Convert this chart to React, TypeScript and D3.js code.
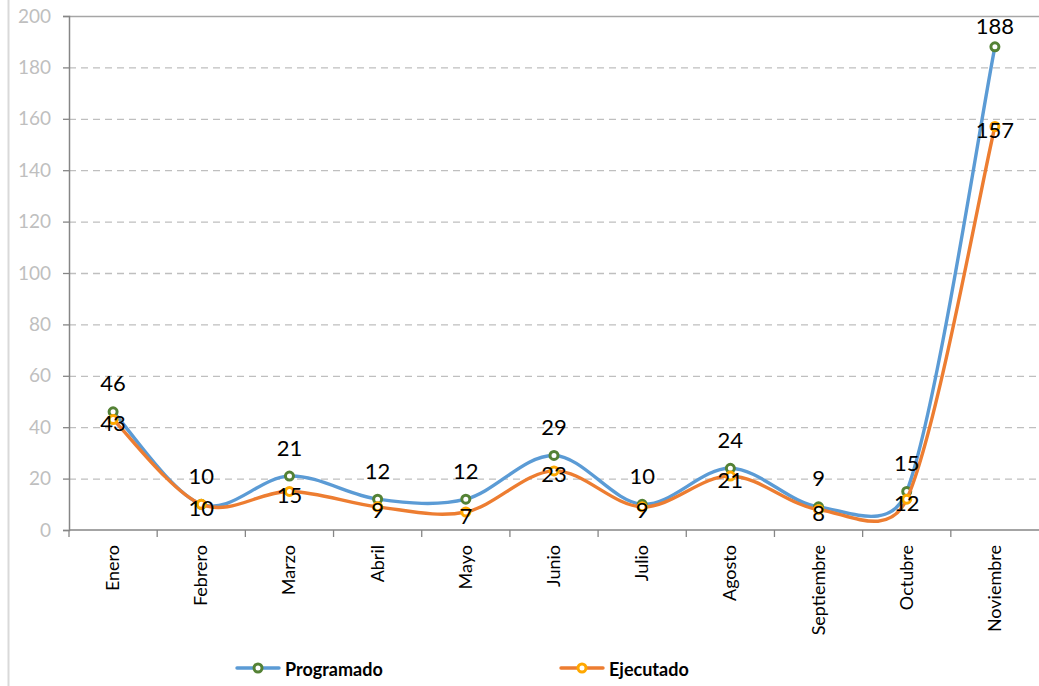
import React, { useEffect, useRef } from "react";
import * as d3 from "d3";

// datos
const meses = ["Enero", "Febrero", "Marzo", "Abril", "Mayo", "Junio", "Julio", "Agosto", "Septiembre", "Octubre", "Noviembre"];
const programado = [46, 10, 21, 12, 12, 29, 10, 24, 9, 15, 188];
const ejecutado = [43, 10, 15, 9, 7, 23, 9, 21, 8, 12, 157];
const yTicks = [0, 20, 40, 60, 80, 100, 120, 140, 160, 180, 200];

const W = 1039;
const H = 686;

// linea suavizada tipo Excel: catmull-rom con el brazo de control limitado
function smoothPath(pts: [number, number][]) {
  const n = pts.length;
  const tan = pts.map((p, i) => {
    const a = pts[Math.max(i - 1, 0)];
    const b = pts[Math.min(i + 1, n - 1)];
    return [(b[0] - a[0]) / 6, (b[1] - a[1]) / 6];
  });
  const p = d3.path();
  p.moveTo(pts[0][0], pts[0][1]);
  for (let i = 0; i < n - 1; i++) {
    const p0 = pts[i], p1 = pts[i + 1];
    const seg = Math.hypot(p1[0] - p0[0], p1[1] - p0[1]);
    const lim = (t: number[]) => {
      const l = Math.hypot(t[0], t[1]);
      const k = l > seg * 0.5 ? (seg * 0.5) / l : 1;
      return [t[0] * k, t[1] * k];
    };
    const t0 = lim(tan[i]);
    const t1 = lim(tan[i + 1]);
    p.bezierCurveTo(p0[0] + t0[0], p0[1] + t0[1], p1[0] - t1[0], p1[1] - t1[1], p1[0], p1[1]);
  }
  return p.toString();
}

function App() {
  const svgRef = useRef<SVGSVGElement>(null);

  useEffect(() => {
    const svg = d3.select(svgRef.current);
    svg.selectAll("*").remove();

    const left = 69, right = 1039, top = 16, bottom = 530;

    const x = d3.scaleBand<string>().domain(meses).range([left, right]);
    const y = d3.scaleLinear().domain([0, 200]).range([bottom, top]);
    const cx = (m: string) => (x(m) as number) + x.bandwidth() / 2;
    const font = "Lato, 'Open Sans', sans-serif";

    // borde izquierdo del area del grafico
    svg.append("line")
      .attr("x1", 8.5).attr("x2", 8.5).attr("y1", 0).attr("y2", H)
      .attr("stroke", "#d9d9d9").attr("stroke-width", 2);

    // cuadricula
    svg.append("g").selectAll("line")
      .data(yTicks.filter(t => t > 0))
      .join("line")
      .attr("x1", left).attr("x2", right)
      .attr("y1", d => y(d) + 0.5).attr("y2", d => y(d) + 0.5)
      .attr("stroke", d => (d === 200 ? "#a6a6a6" : "#bfbfbf"))
      .attr("stroke-width", 1.3)
      .attr("stroke-dasharray", d => (d === 200 ? null : "7,5"));

    // eje y
    const yAxis = svg.append("g")
      .attr("transform", `translate(${left},0)`)
      .call(d3.axisLeft(y).tickValues(yTicks).tickSize(6).tickPadding(12));
    yAxis.select(".domain").attr("stroke", "#868686").attr("stroke-width", 1.5);
    yAxis.selectAll(".tick line").attr("stroke", "#868686").attr("stroke-width", 1.3);
    yAxis.selectAll(".tick text")
      .attr("fill", "#bfbfbf")
      .style("font-family", font)
      .style("font-size", "19px");

    // eje x
    const xAxis = svg.append("g").attr("transform", `translate(0,${bottom})`);
    xAxis.append("line")
      .attr("x1", left).attr("x2", right).attr("y1", 0).attr("y2", 0)
      .attr("stroke", "#868686").attr("stroke-width", 1.5);
    xAxis.selectAll(".tk")
      .data(meses)
      .join("line")
      .attr("class", "tk")
      .attr("x1", d => x(d) as number).attr("x2", d => x(d) as number)
      .attr("y1", 0).attr("y2", 7)
      .attr("stroke", "#868686").attr("stroke-width", 1.3);
    xAxis.selectAll(".lbl")
      .data(meses)
      .join("text")
      .attr("class", "lbl")
      .attr("transform", d => `translate(${cx(d) + 6},15) rotate(-90)`)
      .attr("text-anchor", "end")
      .style("font-family", font)
      .style("font-size", "18px")
      .attr("fill", "#000")
      .text(d => d);

    const series = [
      { name: "Programado", values: programado, color: "#5b9bd5", marker: "#548235" },
      { name: "Ejecutado", values: ejecutado, color: "#ed7d31", marker: "#ffa800" },
    ];

    series.forEach(s => {
      const pts = s.values.map((v, i) => [cx(meses[i]), y(v)] as [number, number]);
      svg.append("path")
        .attr("d", smoothPath(pts))
        .attr("fill", "none")
        .attr("stroke", s.color)
        .attr("stroke-width", 3.4)
        .attr("stroke-linecap", "round");
      svg.append("g").selectAll("circle")
        .data(s.values)
        .join("circle")
        .attr("cx", (_, i) => cx(meses[i]))
        .attr("cy", d => y(d))
        .attr("r", 4)
        .attr("fill", "#fff")
        .attr("stroke", s.marker)
        .attr("stroke-width", 3);
    });

    // etiquetas de datos
    svg.append("g").selectAll("text")
      .data(programado)
      .join("text")
      .attr("x", (_, i) => cx(meses[i]))
      .attr("y", d => Math.max(y(d) - 29, 25))
      .attr("text-anchor", "middle")
      .attr("dominant-baseline", "central")
      .style("font-family", font)
      .style("font-size", "22px")
      .attr("fill", "#000")
      .text(d => d);
    svg.append("g").selectAll("text")
      .data(ejecutado)
      .join("text")
      .attr("x", (_, i) => cx(meses[i]))
      .attr("y", d => y(d) + 3)
      .attr("text-anchor", "middle")
      .attr("dominant-baseline", "central")
      .style("font-family", font)
      .style("font-size", "22px")
      .attr("fill", "#000")
      .text(d => d);

    // leyenda
    const legend = [
      { name: "Programado", x: 237, color: "#5b9bd5", marker: "#548235" },
      { name: "Ejecutado", x: 561, color: "#ed7d31", marker: "#ffa800" },
    ];
    const lg = svg.append("g").selectAll("g").data(legend).join("g")
      .attr("transform", d => `translate(${d.x},668)`);
    lg.append("line")
      .attr("x1", 0).attr("x2", 42).attr("y1", 0).attr("y2", 0)
      .attr("stroke", d => d.color).attr("stroke-width", 3.4).attr("stroke-linecap", "round");
    lg.append("circle")
      .attr("cx", 21).attr("cy", 0).attr("r", 4)
      .attr("fill", "#fff").attr("stroke", d => d.marker).attr("stroke-width", 3);
    lg.append("text")
      .attr("x", 48).attr("y", 1)
      .attr("dominant-baseline", "central")
      .style("font-family", font)
      .style("font-size", "18px")
      .style("font-weight", "bold")
      .attr("fill", "#000")
      .text(d => d.name);
  }, []);

  return (
    <svg ref={svgRef} width={W} height={H} style={{ position: "absolute", left: 0, top: 0, background: "#fff" }} />
  );
}

export default App;
